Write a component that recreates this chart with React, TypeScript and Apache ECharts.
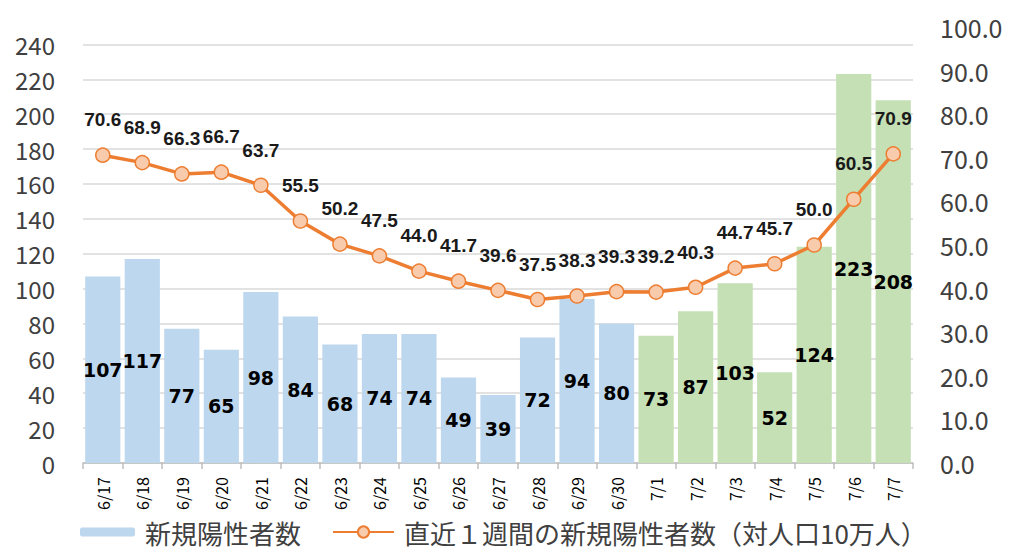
import React, { useEffect, useRef } from "react";
import * as echarts from "echarts";

const categories = ["6/17","6/18","6/19","6/20","6/21","6/22","6/23","6/24","6/25","6/26","6/27","6/28","6/29","6/30","7/1","7/2","7/3","7/4","7/5","7/6","7/7"];
const newCases = [107,117,77,65,98,84,68,74,74,49,39,72,94,80,73,87,103,52,124,223,208];
const weeklyPer100k = [70.6,68.9,66.3,66.7,63.7,55.5,50.2,47.5,44.0,41.7,39.6,37.5,38.3,39.3,39.2,40.3,44.7,45.7,50.0,60.5,70.9];
const greenFrom = "7/1";

const BLUE = "#BDD7EE";
const GREEN = "#C5E0B4";
const ORANGE = "#ED7D31";
const JP = "'Noto Sans CJK JP', 'Noto Sans', sans-serif";
const NUM = "'Liberation Sans', Arial, sans-serif";
const HEAVY = "'DejaVu Sans', sans-serif";

export default function App() {
  const ref = useRef<HTMLDivElement>(null);
  useEffect(() => {
    document.body.style.margin = "0";
    const chart = echarts.init(ref.current!, null, { renderer: "svg" });
    const gi = categories.indexOf(greenFrom);
    chart.setOption({
      animation: false,
      grid: { left: 83, right: 100, top: 27, bottom: 86, containLabel: false },
      legend: [
        {
          data: ["新規陽性者数"],
          left: 80,
          top: 519,
          padding: 0,
          itemWidth: 55,
          itemHeight: 9,
          textStyle: { fontFamily: JP, fontSize: 26, color: "#404040", padding: [0, 0, 0, 5] },
        },
        {
          data: ["直近１週間の新規陽性者数（対人口10万人）"],
          left: 332,
          top: 519,
          padding: 0,
          itemWidth: 61,
          itemHeight: 14,
          textStyle: { fontFamily: JP, fontSize: 26, color: "#404040", padding: [0, 0, 0, 5] },
        },
      ],
      xAxis: {
        type: "category",
        data: categories,
        axisLine: { lineStyle: { color: "#BFBFBF", width: 1.5 } },
        axisTick: { show: true, length: 6, lineStyle: { color: "#BFBFBF", width: 1.5 } },
        axisLabel: { rotate: 90, fontSize: 16, fontFamily: JP, color: "#000", margin: 14, interval: 0 },
      },
      yAxis: [
        {
          type: "value",
          min: 0,
          max: 250,
          interval: 20,
          axisLine: { show: false },
          axisTick: { show: false },
          axisLabel: {
            fontSize: 24,
            fontFamily: JP,
            color: "#404040",
            margin: 28,
            showMaxLabel: false,
            formatter: (v: number) => (v > 240 ? "" : String(v)),
          },
          splitLine: { show: true, showMaxLine: false, lineStyle: { color: "#D9D9D9", width: 1.5 } },
        },
        {
          type: "value",
          min: 0,
          max: 100,
          interval: 10,
          axisLine: { show: false },
          axisTick: { show: false },
          splitLine: { show: false },
          axisLabel: {
            fontSize: 25,
            fontFamily: JP,
            color: "#404040",
            margin: 27,
            formatter: (v: number) => v.toFixed(1),
          },
        },
      ],
      series: [
        {
          name: "新規陽性者数",
          type: "bar",
          barCategoryGap: "11%",
          itemStyle: { color: BLUE },
          data: newCases.map((v, i) => ({ value: v, itemStyle: { color: i >= gi ? GREEN : BLUE } })),
          label: {
            show: true,
            position: "inside",
            color: "#000",
            fontFamily: HEAVY,
            fontWeight: "bold",
            fontSize: 19,
          },
          z: 1,
        },
        {
          name: "直近１週間の新規陽性者数（対人口10万人）",
          type: "line",
          yAxisIndex: 1,
          data: weeklyPer100k,
          symbol: "circle",
          symbolSize: 14,
          lineStyle: { color: ORANGE, width: 3.5 },
          itemStyle: { color: "#F8CBAD", borderColor: ORANGE, borderWidth: 1.5 },
          label: {
            show: true,
            position: "top",
            distance: 18,
            color: "#1a1a1a",
            fontFamily: NUM,
            fontWeight: "bold",
            fontSize: 19,
            formatter: (p: any) => Number(p.value).toFixed(1),
          },
          z: 3,
        },
      ],
    });
    return () => chart.dispose();
  }, []);
  return <div ref={ref} style={{ width: 1013, height: 549 }} />;
}
